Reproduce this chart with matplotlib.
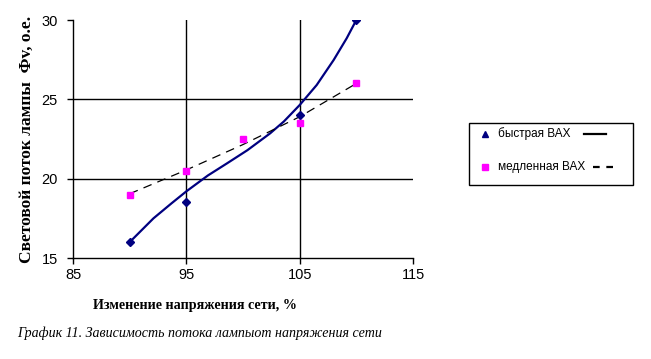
import matplotlib
matplotlib.use("Agg")
import matplotlib.pyplot as plt
from matplotlib.lines import Line2D
from matplotlib.patches import Rectangle

# measured points
fast_x = [90, 95, 105, 110]
fast_y = [16, 18.5, 24, 30]
slow_x = [90, 95, 100, 105, 110]
slow_y = [19, 20.5, 22.5, 23.5, 26]

# trend lines
fast_trend_x = [90, 92.1, 93.7, 95, 96.9, 98.6, 100.4, 102.4, 103.6, 105, 106.5, 108, 109.15, 110]
fast_trend_y = [16, 17.5, 18.45, 19.2, 20.2, 20.97, 21.8, 22.86, 23.6, 24.64, 25.9, 27.48, 28.85, 30]
slow_trend_x = [90, 95, 100, 105, 110]
slow_trend_y = [19.05, 20.55, 22.15, 23.9, 26.0]

xticks = [85, 95, 105, 115]
yticks = [15, 20, 25, 30]

fig = plt.figure(figsize=(6.51, 3.59), dpi=100)
ax = fig.add_axes([73 / 651, 1 - 258 / 359, 340 / 651, 238 / 359])

ax.set_xlim(85, 115)
ax.set_ylim(15, 30)

# grid: horizontal at 20, 25; vertical at 95, 105
for y in [20, 25]:
    ax.axhline(y, color="black", lw=1)
for x in [95, 105]:
    ax.axvline(x, color="black", lw=1)

ax.plot(fast_trend_x, fast_trend_y, color="#000080", lw=1.6, zorder=3)
ax.plot(slow_trend_x, slow_trend_y, color="black", lw=0.9, dashes=(7, 5), zorder=3)
ax.plot(fast_x, fast_y, ls="none", marker="D", ms=4, color="#000080", zorder=4)
ax.plot(slow_x, slow_y, ls="none", marker="s", ms=4.5, color="#FF00FF", zorder=4)

for s in ["top", "right"]:
    ax.spines[s].set_visible(False)
ax.spines["left"].set_linewidth(1)
ax.spines["bottom"].set_linewidth(1)

ax.set_xticks(xticks)
ax.set_yticks(yticks)
ax.tick_params(axis="both", direction="out", length=4, width=1, labelsize=10.5,
               colors="black")
ax.tick_params(axis="y", pad=7)
ax.tick_params(axis="x", pad=3)
for lab in ax.get_xticklabels() + ax.get_yticklabels():
    lab.set_fontfamily("Liberation Sans")

ax.set_ylabel("Световой поток лампы  Фv, о.е.", fontfamily="Liberation Serif",
              fontweight="bold", fontsize=12.5, labelpad=5)

fig.text(195 / 651, 1 - 306 / 359, "Изменение напряжения сети, %",
         fontfamily="Liberation Serif", fontweight="bold", fontsize=10.2,
         ha="center", va="center")
fig.text(17 / 651, 1 - 333 / 359, "График 11. Зависимость потока лампыот напряжения сети",
         fontfamily="Liberation Serif", style="italic", fontsize=10.1,
         ha="left", va="center")

# legend drawn by hand (marker, text, line sample)
W, H = 651, 359
fig.patches.append(Rectangle((469 / W, 1 - 185 / H), 164 / W, 62 / H,
                             transform=fig.transFigure, fill=False,
                             edgecolor="black", lw=1))
fig.lines.append(Line2D([485 / W], [1 - 134 / H], transform=fig.transFigure,
                        marker="^", ms=5, color="#000080", ls="none"))
fig.lines.append(Line2D([485 / W], [1 - 167 / H], transform=fig.transFigure,
                        marker="s", ms=4.5, color="#FF00FF", ls="none"))
fig.lines.append(Line2D([584 / W, 606 / W], [1 - 134 / H] * 2,
                        transform=fig.transFigure, color="black", lw=1.6))
fig.lines.append(Line2D([593 / W, 614 / W], [1 - 167 / H] * 2,
                        transform=fig.transFigure, color="black", lw=1.6,
                        dashes=(3, 3)))
fig.text(498 / W, 1 - 134 / H, "быстрая ВАХ", fontfamily="Liberation Sans",
         fontsize=8.5, va="center")
fig.text(498 / W, 1 - 167 / H, "медленная ВАХ", fontfamily="Liberation Sans",
         fontsize=8.5, va="center")

fig.savefig("out.png", dpi=100)
